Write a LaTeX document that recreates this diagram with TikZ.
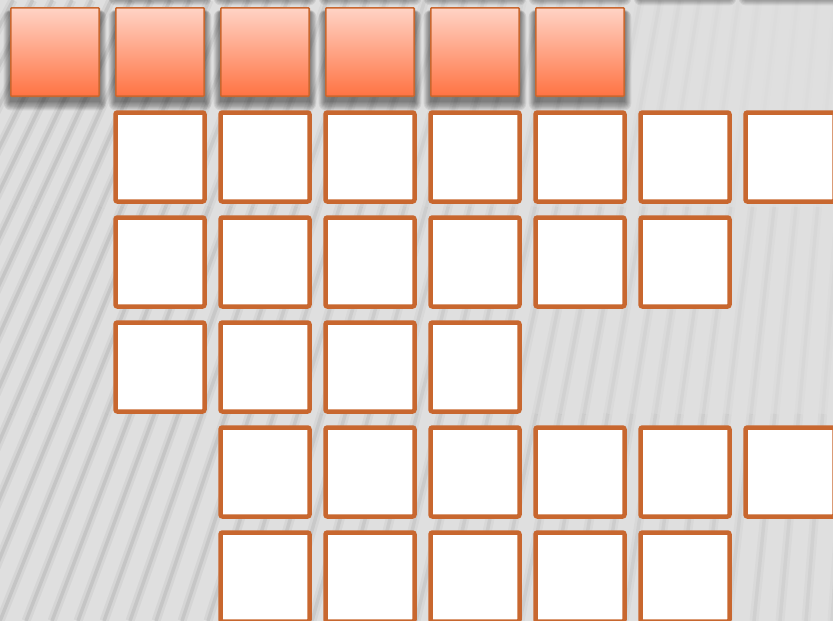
\documentclass[tikz,border=0pt]{standalone}
\definecolor{bgc}{HTML}{DFDFDF}
\definecolor{edgeor}{HTML}{C8672F}
\definecolor{toptint}{HTML}{FFD3C5}
\definecolor{bottint}{HTML}{FF7343}
\tikzset{
  stripesoft/.style={line width=9pt, draw=black},
  stripecore/.style={line width=3.5pt, draw=black},
  shadowlayer/.style={fill=black, opacity=0.065},
  headbox/.style={draw=edgeor, line width=1.7pt, minimum width=88.3pt, minimum height=88.3pt,
    inner sep=0pt, outer sep=0pt, top color=toptint, bottom color=bottint, rounded corners=0.8pt},
  cellbox/.style={draw=edgeor, line width=4.5pt, fill=white, minimum width=89pt, minimum height=89pt,
    inner sep=0pt, outer sep=0pt, rounded corners=2pt}
}
\begin{document}
\begin{tikzpicture}[x=1pt,y=-1pt]
\useasboundingbox (0,0) rectangle (833,621);
\clip (0,0) rectangle (833,621);
\fill[bgc] (0,0) rectangle (833,621);
% background stripes, fading towards the upper right
\foreach \i in {-12,...,34}{
  \pgfmathsetmacro\b{\i*26}
  \pgfmathsetmacro\s{max(0.07,0.40-0.33*\b/833)}
  \foreach \j in {0,1,2}{
    \pgfmathsetmacro\ya{621-207*\j}
    \pgfmathsetmacro\yb{621-207*(\j+1)}
    \pgfmathsetmacro\xa{\b+\s*207*\j}
    \pgfmathsetmacro\xb{\b+\s*207*(\j+1)}
    \pgfmathsetmacro\xm{max(0,(\xa+\xb)/2)/833}
    \pgfmathsetmacro\ym{(\ya+\yb)/2/621}
    \pgfmathsetmacro\fa{max(0.12,min(1,1.1-0.5*\xm-0.7*\xm*(1-\ym)))}
    \pgfmathsetmacro\oa{0.045*\fa}
    \pgfmathsetmacro\ob{0.07*\fa}
    \draw[stripesoft, opacity=\oa] (\xa,\ya) -- (\xb,\yb);
    \draw[stripecore, opacity=\ob] (\xa,\ya) -- (\xb,\yb);
  }
}
% soft drop shadows of the header boxes (row above the picture and visible row)
\foreach \cx/\cy in {160/-53,265/-53,370/-53,475/-53,580/-53,685/-53,790/-53,
                     55/52,160/52,265/52,370/52,475/52,580/52}{
  \foreach \r in {0,...,7}{
    \fill[shadowlayer, rounded corners=\r pt]
      (\cx-45-\r*0.9,\cy-45+5-\r*0.3) rectangle (\cx+45+\r*0.9,\cy+45+5+\r*1.2);
  }
}
% header row
\foreach \k in {0,...,5}{
  \node[headbox] (o\k) at (55+105*\k,52) {};
}
% grid of white cells
\foreach \k in {1,...,7}{ \node[cellbox] (a\k) at (55+105*\k,157) {}; }
\foreach \k in {1,...,6}{ \node[cellbox] (b\k) at (55+105*\k,262) {}; }
\foreach \k in {1,...,4}{ \node[cellbox] (c\k) at (55+105*\k,367) {}; }
\foreach \k in {2,...,7}{ \node[cellbox] (d\k) at (55+105*\k,472) {}; }
\foreach \k in {2,...,6}{ \node[cellbox] (e\k) at (55+105*\k,577) {}; }
\end{tikzpicture}
\end{document}
